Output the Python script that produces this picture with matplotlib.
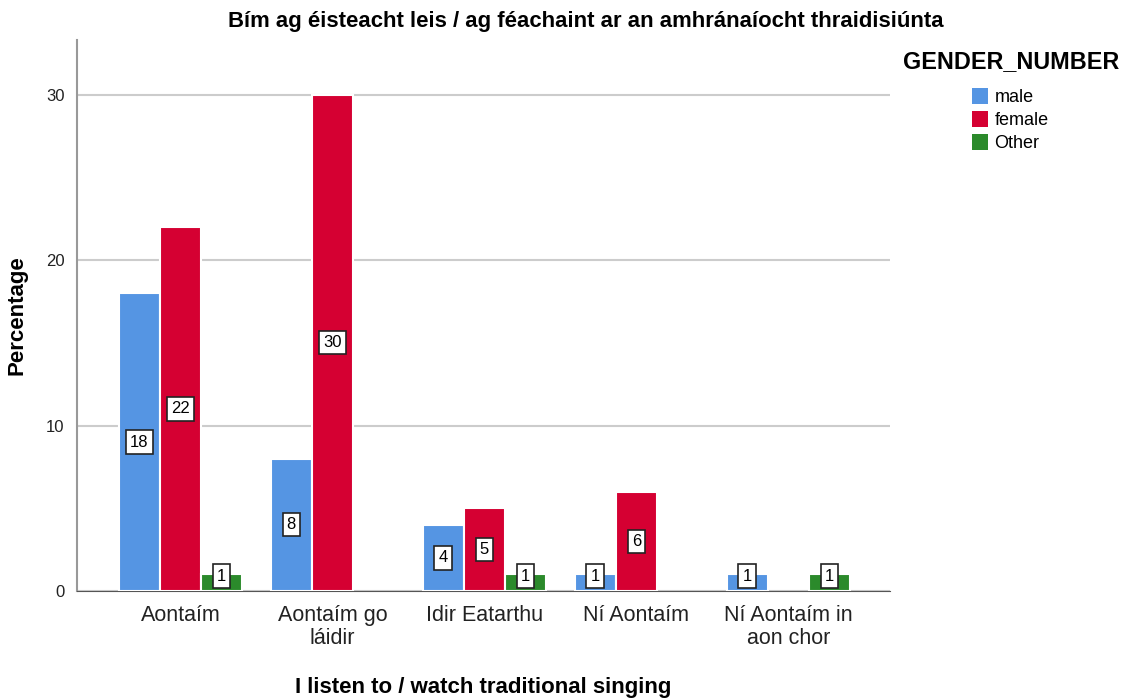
import matplotlib as mpl
import matplotlib.pyplot as plt
import numpy as np
from matplotlib.patches import Patch

categorias = ["Aontaím", "Aontaím go\nláidir", "Idir Eatarthu", "Ní Aontaím", "Ní Aontaím in\naon chor"]
grupos = ["male", "female", "Other"]
male = [18, 8, 4, 1, 1]
female = [22, 30, 5, 6, 0]
other = [1, 0, 1, 0, 1]
colores = ["#5595E3", "#D50032", "#2B8A2B"]

mpl.rcParams['font.family'] = ['Liberation Sans', 'DejaVu Sans']

fig = plt.figure(figsize=(11.23, 6.98), dpi=100)
ax = fig.add_axes([0.0686, 0.1533, 0.724, 0.7894])

x = np.arange(len(categorias))
ancho = 0.27
series = [male, female, other]

for i, (vals, color) in enumerate(zip(series, colores)):
    pos = x + (i - 1) * ancho
    for p, v in zip(pos, vals):
        if v == 0:
            continue
        ax.bar(p, v, width=ancho, color=color, edgecolor='white', linewidth=1.5, zorder=3)
        ax.text(p, max(v / 2, 0.9), str(v), ha='center', va='center', fontsize=12, zorder=4,
                bbox=dict(boxstyle='square,pad=0.25', facecolor='white', edgecolor='#222222', linewidth=1.2))

ax.set_xlim(-0.68, 4.67)
ax.set_ylim(0, 33.3)
ax.set_yticks([0, 10, 20, 30])
ax.set_xticks(x)
ax.set_xticklabels(categorias, fontsize=15.5, color='#222222', linespacing=1.15)
ax.tick_params(axis='y', labelsize=12, length=0, pad=9, labelcolor='#222222')
ax.tick_params(axis='x', length=0, pad=10)
ax.grid(axis='y', color='#CCCCCC', linewidth=1.5, zorder=0)

ax.spines['top'].set_visible(False)
ax.spines['right'].set_visible(False)
ax.spines['left'].set_color('#999999')
ax.spines['left'].set_linewidth(1.5)
ax.spines['bottom'].set_color('#555555')

ax.set_ylabel('Percentage', fontsize=16, fontweight='bold', labelpad=13)
ax.set_xlabel('I listen to / watch traditional singing', fontsize=16, fontweight='bold', labelpad=20)
# titulo centrado en la figura (un poco a la derecha, como en el original)
fig.text(0.522, 0.969, 'Bím ag éisteacht leis / ag féachaint ar an amhránaíocht thraidisiúnta',
         fontsize=15.9, fontweight='bold', ha='center', va='center')

handles = [Patch(facecolor=c, label=g) for c, g in zip(colores, grupos)]
fig.text(0.804, 0.912, 'GENDER_NUMBER', fontsize=16.8, fontweight='bold', va='center')
fig.legend(handles=handles, loc='upper left', bbox_to_anchor=(0.851, 0.897), frameon=False,
           fontsize=13, handlelength=0.9, handleheight=1.0, handletextpad=0.35, labelspacing=0.25)

plt.savefig("out.png")
